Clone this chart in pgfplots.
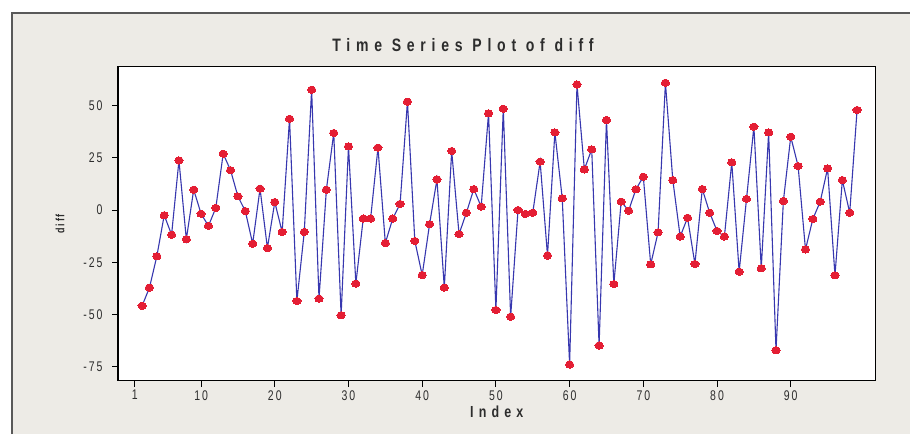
\documentclass[border=0pt]{standalone}
\usepackage{fontspec}
\setmainfont{Liberation Sans}[FakeStretch=0.75,LetterSpace=14]
\newfontfamily\titlefont{Liberation Sans}[FakeStretch=0.78,LetterSpace=32]
\usepackage{pgfplots}
\pgfplotsset{compat=1.18}
\definecolor{panel}{RGB}{237,235,230}
\definecolor{serline}{RGB}{55,55,175}
\definecolor{sermark}{RGB}{228,30,52}
\definecolor{txt}{RGB}{45,45,45}
\begin{document}
\begin{tikzpicture}
\fill[white] (0,0) rectangle (910pt,434pt);
\fill[panel] (12pt,0) rectangle (910pt,421pt);
\draw[gray!70!black, line width=1.2pt] (12pt,0) -- (12pt,421pt) -- (910pt,421pt);
\begin{axis}[
  at={(118pt,53.3pt)}, anchor=south west,
  scale only axis, width=757.5pt, height=314pt,
  xmin=-1.27, xmax=101.5, ymin=-81.6, ymax=68.5,
  xtick={1,10,20,30,40,50,60,70,80,90},
  ytick={-75,-50,-25,0,25,50},
  tick align=outside, tick pos=left,
  major tick length=6pt,
  axis line style={black, line width=1.3pt},
  every tick/.style={black, line width=0.9pt},
  axis background/.style={fill=white},
  /pgf/number format/assume math mode=true,
  ticklabel style={font=\fontsize{14}{14}\selectfont, text=txt},
  yticklabel style={xshift=-6pt},
  xlabel={\titlefont\bfseries Index},
  ylabel={\bfseries diff},
  xlabel style={at={(axis description cs:0.5,0)}, anchor=center, yshift=-31pt, font=\fontsize{16}{16}\selectfont, text=txt},
  ylabel style={at={(axis description cs:-0.0766,0.5)}, anchor=center, font=\fontsize{12}{12}\selectfont, text=txt},
]
\addplot[serline, line width=1.1pt, mark=*, mark size=3.6pt,
  mark options={fill=sermark, draw=sermark, line width=0pt, xscale=1.15}] table[x=i, y=v] {
i v
2 -45.8
3 -37.1
4 -22.1
5 -2.5
6 -11.8
7 23.7
8 -14.0
9 9.7
10 -1.8
11 -7.6
12 1.0
13 26.9
14 19.0
15 6.5
16 -0.5
17 -16.1
18 10.2
19 -18.2
20 3.8
21 -10.5
22 43.6
23 -43.5
24 -10.5
25 57.5
26 -42.4
27 9.7
28 36.8
29 -50.3
30 30.4
31 -35.2
32 -4.1
33 -4.1
34 29.8
35 -15.8
36 -4.1
37 2.9
38 51.8
39 -14.8
40 -31.1
41 -6.8
42 14.6
43 -37.1
44 28.2
45 -11.5
46 -1.3
47 10.0
48 1.6
49 46.2
50 -47.8
51 48.4
52 -51.0
53 0.0
54 -1.9
55 -1.3
56 23.1
57 -21.8
58 37.1
59 5.6
60 -73.9
61 60.0
62 19.4
63 29.0
64 -64.8
65 43.0
66 -35.4
67 4.0
68 -0.3
69 9.9
70 15.9
71 -26.0
72 -10.7
73 60.8
74 14.3
75 -12.7
76 -3.7
77 -25.8
78 10.0
79 -1.3
80 -10.0
81 -12.7
82 22.8
83 -29.5
84 5.3
85 39.8
86 -27.9
87 37.1
88 -67.0
89 4.3
90 35.0
91 21.0
92 -18.9
93 -4.3
94 4.0
95 19.9
96 -31.2
97 14.3
98 -1.3
99 47.8
};
\end{axis}
\node[text=txt, font=\titlefont\bfseries\fontsize{18}{18}\selectfont] at (463pt,389pt) {Time Series Plot of diff};
\pgfresetboundingbox
\useasboundingbox (0,0) rectangle (910pt,434pt);
\end{tikzpicture}
\end{document}
